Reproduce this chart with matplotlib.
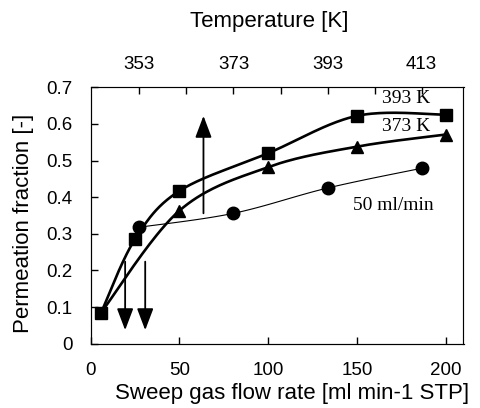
import numpy as np
import matplotlib
matplotlib.use("Agg")
import matplotlib.pyplot as plt

# sweep gas flow rate series (bottom axis)
flow_393 = [6, 25, 50, 100, 150, 200]
frac_393 = [0.085, 0.285, 0.417, 0.520, 0.622, 0.625]
flow_373 = [6, 50, 100, 150, 200]
frac_373 = [0.085, 0.363, 0.482, 0.538, 0.571]

# temperature series at 50 ml/min (top axis)
temp_50 = [353, 373, 393, 413]
frac_50 = [0.318, 0.356, 0.425, 0.479]

flow_ticks = [0, 50, 100, 150, 200]
frac_ticks = [0, 0.1, 0.2, 0.3, 0.4, 0.5, 0.6, 0.7]
frac_ticklabels = ["0", "0.1", "0.2", "0.3", "0.4", "0.5", "0.6", "0.7"]
temp_ticks = [353, 373, 393, 413]
temp_minor = [363, 383, 403]


def smooth(x, y, n=40):
    # excel-style smoothed line: bezier segments with 1/6 tangents
    p = np.column_stack([x, y]).astype(float)
    p = np.vstack([p[0], p, p[-1]])
    t = np.linspace(0, 1, n)[:, None]
    segs = []
    for i in range(1, len(p) - 2):
        p0, p1, p2, p3 = p[i - 1], p[i], p[i + 1], p[i + 2]
        c1 = p1 + (p2 - p0) / 6
        c2 = p2 - (p3 - p1) / 6
        segs.append((1 - t) ** 3 * p1 + 3 * (1 - t) ** 2 * t * c1
                    + 3 * (1 - t) * t ** 2 * c2 + t ** 3 * p2)
    s = np.vstack(segs)
    return s[:, 0], s[:, 1]


plt.rcParams['font.family'] = ['Liberation Sans', 'DejaVu Sans']

W, H = 481, 408
fig = plt.figure(figsize=(W / 100, H / 100), dpi=100)
ax = fig.add_axes([90.5 / W, 64.3 / H, 373 / W, 256.4 / H])

ax.set_xlim(0, 210)
ax.set_ylim(0, 0.7)
ax.set_xticks(flow_ticks)
ax.set_yticks(frac_ticks)
ax.set_yticklabels(frac_ticklabels)
ax.tick_params(direction='in', length=5, width=1, labelsize=13.5)
ax.tick_params(axis='x', pad=13)
ax.tick_params(axis='y', pad=13)
for side in ['left', 'bottom']:
    ax.spines[side].set_color('#303030')
for side in ['right', 'top']:
    ax.spines[side].set_color('#707070')

ax2 = ax.twiny()
ax2.set_xlim(342.6, 421.9)
ax2.set_xticks(temp_ticks)
ax2.set_xticks(temp_minor, minor=True)
ax2.tick_params(which='both', direction='in', length=5, width=1, labelsize=13.5, pad=10)

lw_thick = 1.9
xs, ys = smooth(flow_373, frac_373)
ax.plot(xs, ys, color='black', lw=lw_thick, zorder=3)
ax.plot(flow_373[1:], frac_373[1:], ls='none', marker='^', ms=9, color='black', zorder=4)

xs, ys = smooth(flow_393, frac_393)
ax.plot(xs, ys, color='black', lw=lw_thick, zorder=3)
ax.plot(flow_393, frac_393, ls='none', marker='s', ms=8, color='black', zorder=5)

xs, ys = smooth(temp_50, frac_50)
ax2.plot(xs, ys, color='black', lw=0.8, zorder=3)
ax2.plot(temp_50, frac_50, ls='none', marker='o', ms=9, color='black', zorder=4)

# trend arrows
arrow = dict(arrowstyle='-|>,head_length=0.95,head_width=0.36', lw=1.3, color='black',
             shrinkA=0, shrinkB=0, mutation_scale=14)
ax.annotate('', xy=(63.6, 0.622), xytext=(63.6, 0.356), arrowprops=arrow, zorder=6)
ax.annotate('', xy=(19.5, 0.037), xytext=(19.5, 0.224), arrowprops=arrow, zorder=6)
ax.annotate('', xy=(30.8, 0.037), xytext=(30.8, 0.224), arrowprops=arrow, zorder=6)

serif = ['Liberation Serif', 'DejaVu Serif']
ax.text(177.5, 0.670, '393 K', family=serif, fontsize=14, ha='center', va='center')
ax.text(177.5, 0.593, '373 K', family=serif, fontsize=14, ha='center', va='center')
ax.text(170.5, 0.377, '50 ml/min', family=serif, fontsize=14, ha='center', va='center')

fig.text(269 / W, 1 - 21 / H, 'Temperature [K]', fontsize=16, ha='center', va='center')
fig.text(292 / W, 1 - 394 / H, 'Sweep gas flow rate [ml min-1 STP]', fontsize=16,
         ha='center', va='center')
fig.text(24 / W, 1 - 223 / H, 'Permeation fraction [-]', fontsize=16, rotation=90,
         ha='center', va='center')

fig.savefig('out.png', dpi=100)
